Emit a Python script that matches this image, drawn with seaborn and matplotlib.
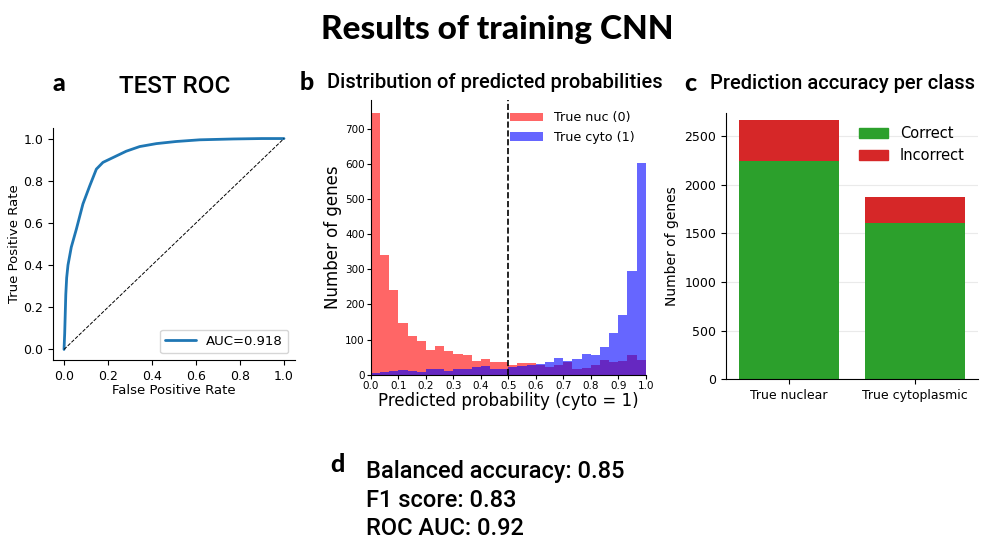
import numpy as np
import pandas as pd
import seaborn as sns
import matplotlib.pyplot as plt
from matplotlib.patches import Patch

# ROC curve
fpr = [0.0, 0.003, 0.008, 0.012, 0.018, 0.033, 0.056, 0.086, 0.117, 0.147,
       0.177, 0.223, 0.283, 0.344, 0.42, 0.51, 0.617, 0.77, 0.9, 1.0]
tpr = [0.0, 0.075, 0.26, 0.34, 0.40, 0.485, 0.57, 0.69, 0.776, 0.855,
       0.887, 0.91, 0.94, 0.962, 0.976, 0.986, 0.994, 0.998, 1.0, 1.0]
chance = [0.0, 1.0]
auc_label = 'AUC=0.918'

# histogram counts per bin (30 bins over 0..1)
nuc_counts = [745, 340, 240, 148, 111, 96, 69, 83, 68, 59, 57, 40, 45, 37, 37,
              28, 32, 32, 28, 23, 27, 37, 17, 20, 27, 43, 35, 39, 55, 43]
cyto_counts = [6, 9, 11, 13, 11, 9, 17, 15, 10, 17, 17, 22, 24, 17, 17,
               22, 24, 28, 30, 35, 48, 38, 45, 60, 55, 80, 120, 170, 295, 603]
threshold = 0.5

# per class accuracy
classes = ['True nuclear', 'True cytoplasmic']
correct = [2243, 1606]
incorrect = [421, 267]

metrics = ['Balanced accuracy: 0.85', 'F1 score: 0.83', 'ROC AUC: 0.92']

sns.set_style('white')
plt.rcParams['font.family'] = ['DejaVu Sans']
plt.rcParams.update({'text.color': 'black', 'axes.labelcolor': 'black',
                     'xtick.color': 'black', 'ytick.color': 'black',
                     'axes.edgecolor': 'black'})

fig = plt.figure(figsize=(9.82, 5.41), dpi=100)

head = dict(family='Lato', weight='black')
ttl = dict(family='Roboto', weight='medium')

fig.text(0.506, 0.945, 'Results of training CNN', ha='center', va='center', fontsize=24, **head)

# --- a: ROC
ax1 = fig.add_axes([0.054, 0.3346, 0.2464, 0.4288])
sns.lineplot(x=fpr, y=tpr, ax=ax1, sort=False, estimator=None, color='#1f77b4', lw=2, label=auc_label)
ax1.plot(chance, chance, 'k--', lw=0.7)
ax1.set_xlabel('False Positive Rate', fontsize=9.5, labelpad=1)
ax1.set_ylabel('True Positive Rate', fontsize=9.5, labelpad=2)
ax1.tick_params(labelsize=9, length=3.5, left=True, bottom=True)
ax1.legend(loc='lower right', fontsize=9.5, handlelength=2.3)
sns.despine(ax=ax1)
fig.text(0.06, 0.845, 'a', ha='center', va='center', fontsize=18, **head)
fig.text(0.178, 0.84, 'TEST ROC', ha='center', va='center', fontsize=17.5, **ttl)

# --- b: histogram
nbins = len(nuc_counts)
centers = (np.arange(nbins) + 0.5) / nbins
hist_df = pd.DataFrame({'p': centers, 'nuc': nuc_counts, 'cyto': cyto_counts})
ax2 = fig.add_axes([0.3778, 0.3074, 0.2797, 0.5078])
sns.histplot(data=hist_df, x='p', weights='nuc', bins=nbins, binrange=(0, 1), color='red', alpha=0.6,
             linewidth=0, label='True nuc (0)', ax=ax2)
sns.histplot(data=hist_df, x='p', weights='cyto', bins=nbins, binrange=(0, 1), color='blue', alpha=0.6,
             linewidth=0, label='True cyto (1)', ax=ax2)
ax2.axvline(threshold, color='k', ls='--', lw=1.2)
ax2.set_xlim(0, 1)
ax2.set_xticks(np.round(np.arange(0, 1.01, 0.1), 1))
ax2.set_xlabel('Predicted probability (cyto = 1)', fontsize=12, labelpad=1)
ax2.set_ylabel('Number of genes', fontsize=12, labelpad=2)
ax2.tick_params(labelsize=7.5, length=3, left=True, bottom=True, pad=1.5)
ax2.legend(loc='upper right', frameon=False, fontsize=9.2, handlelength=2.6)
sns.despine(ax=ax2)
fig.text(0.312, 0.848, 'b', ha='center', va='center', fontsize=18, **head)
fig.text(0.504, 0.848, 'Distribution of predicted probabilities', ha='center', va='center', fontsize=14.5, **ttl)

# --- c: stacked bars
total = [c + i for c, i in zip(correct, incorrect)]
ax3 = fig.add_axes([0.7393, 0.2989, 0.2566, 0.4928])
ax3.grid(axis='y', color='#dddddd', lw=0.8, alpha=0.6)
ax3.set_axisbelow(True)
sns.barplot(x=classes, y=total, color='#d62728', saturation=1, width=0.8, linewidth=0, ax=ax3)
sns.barplot(x=classes, y=correct, color='#2ca02c', saturation=1, width=0.8, linewidth=0, ax=ax3)
ax3.legend(handles=[Patch(color='#2ca02c', label='Correct'), Patch(color='#d62728', label='Incorrect')],
           loc='upper right', frameon=False, fontsize=10.5)
ax3.set_ylim(0, 2740)
ax3.set_ylabel('Number of genes', fontsize=10)
ax3.tick_params(labelsize=9, length=3.5, left=True, bottom=True)
sns.despine(ax=ax3)
fig.text(0.703, 0.845, 'c', ha='center', va='center', fontsize=18, **head)
fig.text(0.858, 0.846, 'Prediction accuracy per class', ha='center', va='center', fontsize=14.5, **ttl)

# --- d: summary metrics
fig.text(0.344, 0.142, 'd', ha='center', va='center', fontsize=18, **head)
for k, line in enumerate(metrics):
    fig.text(0.373, 0.128 - k * 0.0525, line, ha='left', va='center', fontsize=17, **ttl)

fig.savefig('out.png', dpi=100)
